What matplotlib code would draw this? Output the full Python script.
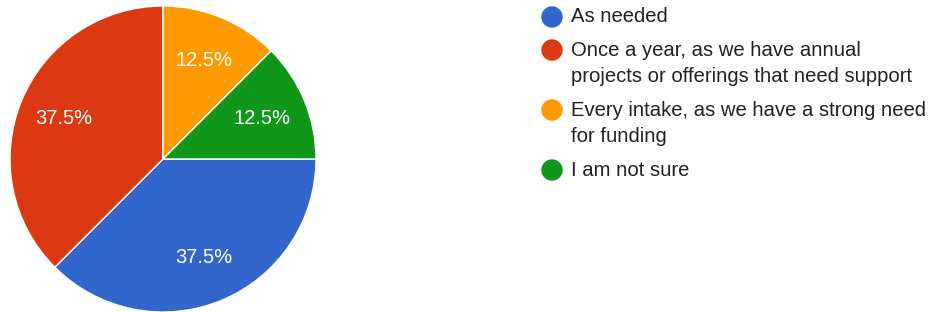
import matplotlib
matplotlib.use('Agg')
from matplotlib import pyplot as plt
from matplotlib.patches import Circle

labels = ['As needed',
          'Once a year, as we have annual\nprojects or offerings that need support',
          'Every intake, as we have a strong need\nfor funding',
          'I am not sure']
values = [37.5, 37.5, 12.5, 12.5]
colors = ['#3366cc', '#dc3912', '#ff9900', '#109618']

plt.rcParams['font.family'] = ['Liberation Sans', 'DejaVu Sans']

fig = plt.figure(figsize=(9.36, 3.12), dpi=100)

# legend drawn in pixel coords on a full-figure axes
lax = fig.add_axes([0, 0, 1, 1])
lax.set_xlim(0, 936)
lax.set_ylim(312, 0)
lax.axis('off')

# pie
ax = fig.add_axes([10 / 936, 0, 306 / 936, 306 / 312])
ax.pie(values, colors=colors, startangle=0, counterclock=False,
       autopct='%1.1f%%', pctdistance=0.7,
       wedgeprops=dict(edgecolor='white', linewidth=1),
       textprops=dict(color='white', fontsize=14.5))
ax.set_xlim(-1, 1)
ax.set_ylim(-1, 1)
ax.set_aspect('equal')

y = 17
for lab, col in zip(labels, colors):
    lax.add_patch(Circle((552, y), 10, color=col))
    lines = lab.split('\n')
    for i, line in enumerate(lines):
        lax.text(571, y + 27 * i, line, fontsize=14.6, color='#222222',
                 va='center', ha='left')
    y += 33 + 27 * (len(lines) - 1)

plt.savefig('out.png', dpi=100)
